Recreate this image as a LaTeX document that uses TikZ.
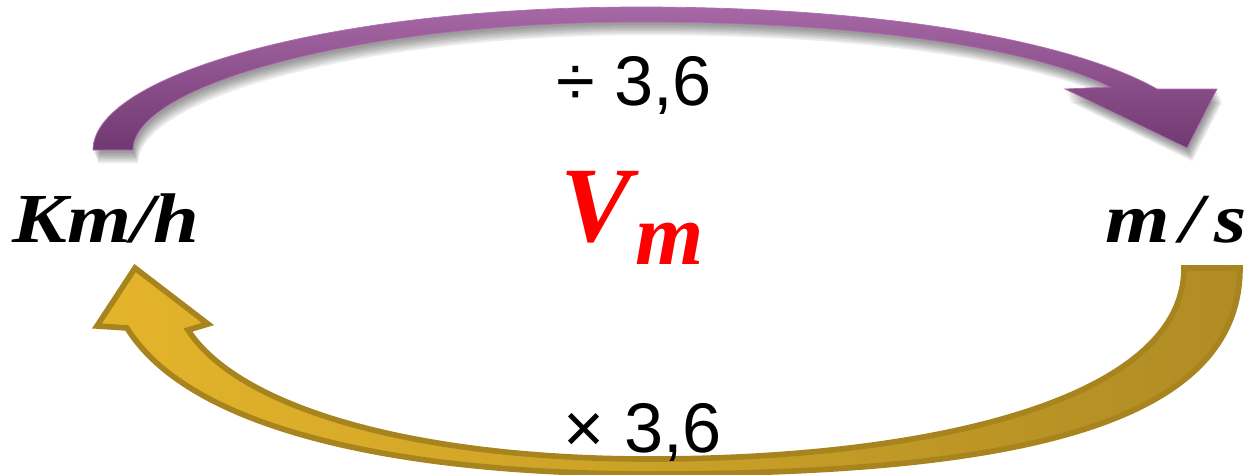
\documentclass[tikz,border=0pt]{standalone}
\usepackage{fontspec}
\setmainfont{Liberation Serif}
\newfontfamily\numfont{Liberation Sans}
\usepackage{graphicx}
\definecolor{purpleTop}{RGB}{166,104,166}
\definecolor{purpleBot}{RGB}{112,56,112}
\definecolor{purpleEdge}{RGB}{176,110,176}
\definecolor{goldLine}{RGB}{168,132,30}
\definecolor{goldLight}{RGB}{228,180,42}
\definecolor{goldDark}{RGB}{176,140,36}
\definecolor{vred}{RGB}{255,0,0}
\tikzset{
  txt/.style={inner sep=0pt, outer sep=0pt},
  unit/.style={txt, font=\fontsize{40}{40}\selectfont\bfseries\itshape},
  num/.style={txt, font=\numfont\fontsize{40}{40}\selectfont},
}
\def\ppath{(93,150) .. controls (93,75) and (330,7) .. (640,7)
  .. controls (900,7) and (1080,45) .. (1157,89) -- (1217,89) -- (1187,148) -- (1065,89) -- (1110,87)
  .. controls (1040,52) and (880,22) .. (640,22)
  .. controls (360,22) and (133,85) .. (133,150) -- cycle}
\def\gpath{(1240,268) .. controls (1240,430) and (1000,474) .. (650,474)
  .. controls (400,474) and (190,430) .. (127,328) -- (97,326) -- (135,268) -- (208,324) -- (188,330)
  .. controls (240,410) and (420,459) .. (650,459)
  .. controls (930,459) and (1184,400) .. (1184,268) -- cycle}
\begin{document}
\begin{tikzpicture}[x=0.02cm,y=-0.02cm]
\useasboundingbox (0,0) rectangle (1251,474);
% shadow of the purple arrow
\foreach \d in {3,5,7,9,11,13} {
  \fill[black,opacity=0.08,shift={(\d*0.4,\d)}] \ppath;
}
% purple arrow
\shade[top color=purpleTop, bottom color=purpleBot, draw=purpleEdge, line width=0.4pt] \ppath;
% gold arrow
\shade[left color=goldLight, right color=goldDark, draw=goldLine, line width=3.2pt, line join=miter] \gpath;
% texts
\node[num, anchor=base] (div) at (634,105) {÷ 3,6};
\node[num, anchor=base] (mul) at (643,452) {× 3,6};
\node[unit, anchor=base] (kmh) at (106,242) {\scalebox{1.17}[1]{Km/h}};
\node[unit, anchor=base] (ms) at (1176,242) {\scalebox{1.18}[1]{m\kern5pt/\kern5pt s}};
\node[txt, anchor=base west, text=vred, font=\bfseries\itshape] (vm) at (560,241)
  {\fontsize{61}{61}\selectfont V\kern2pt\raisebox{-13.6pt}{\fontsize{50}{50}\selectfont m}};
\end{tikzpicture}
\end{document}
